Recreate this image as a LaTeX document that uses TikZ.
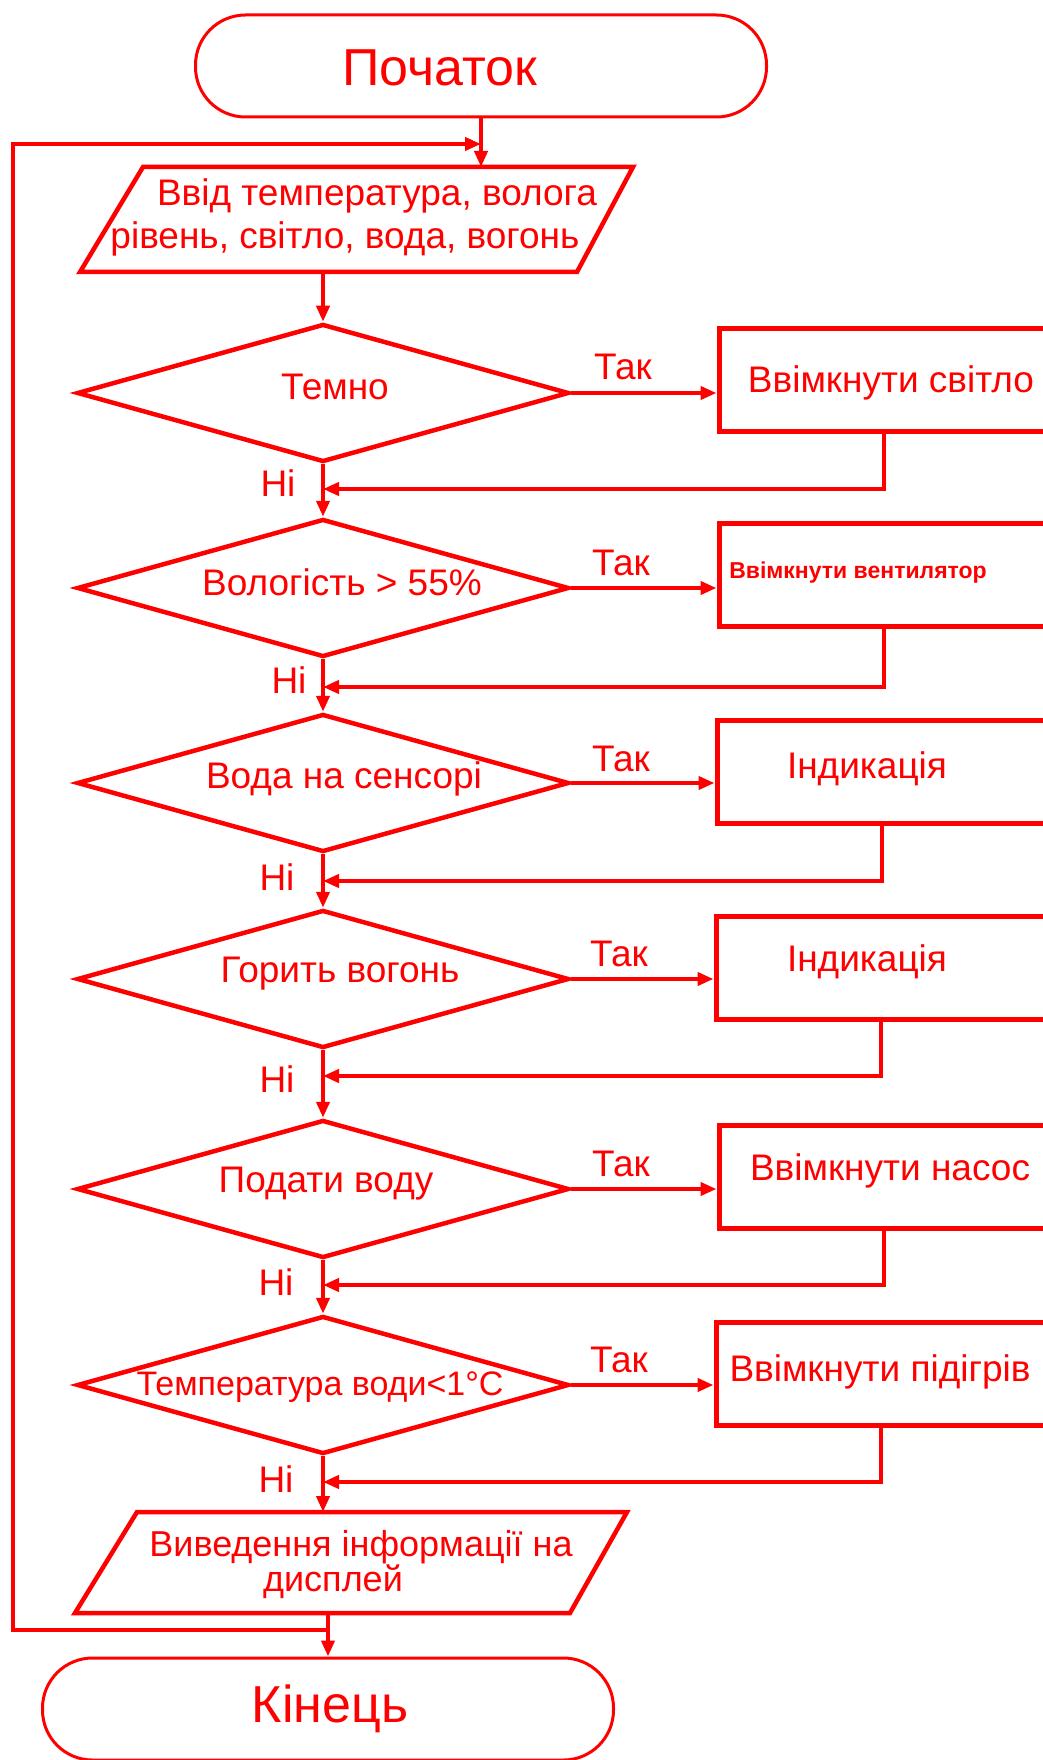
\documentclass[tikz,border=0pt]{standalone}
\usepackage{fontspec}
\setmainfont{Liberation Sans}
\usetikzlibrary{shapes.geometric,arrows.meta}
\definecolor{ink}{RGB}{255,0,0}
\begin{document}
\begin{tikzpicture}[x=1pt,y=-1pt,
  outline/.style={draw=ink, line width=4.5pt, line join=miter},
  flow/.style={draw=ink, line width=4.5pt, -{Triangle[length=16pt,width=13pt]}},
  plain/.style={draw=ink, line width=4pt},
  dec/.style={diamond, draw=ink, line width=4.5pt, minimum width=492pt, minimum height=138pt, inner sep=0pt},
  actbox/.style={rectangle, draw=ink, line width=5pt, minimum width=330pt, minimum height=103pt, inner sep=0pt},
  termbox/.style={rectangle, rounded corners=50pt, draw=ink, line width=3pt, minimum width=571pt, minimum height=102pt, inner sep=0pt},
  lbl/.style={text=ink, inner sep=0pt, font=\fontsize{37}{43}\selectfont},
  biglbl/.style={text=ink, inner sep=0pt, font=\fontsize{52}{58}\selectfont},
]
\useasboundingbox (0,0) rectangle (1043,1760);

% start / end terminals
\node[termbox] (start) at (481,66) {};
\node[biglbl] (tStart) at (440,68) {Початок};
\node[termbox] (finish) at (328,1709) {};
\node[biglbl] (tEnd) at (330,1709) {Кінець};

% input block
\coordinate (inTL) at (143,167);
\coordinate (inTR) at (633,167);
\coordinate (inBR) at (577,272);
\coordinate (inBL) at (80,272);
\draw[outline] (inTL) -- (inTR) -- (inBR) -- (inBL) -- cycle;
\coordinate (inTop) at (481,167);
\coordinate (inBot) at (323,272);
\node[lbl] (tIn1) at (377,196) {Ввід температура, волога};
\node[lbl] (tIn2) at (345,239) {рівень, світло, вода, вогонь};

% decisions
\node[dec] (d1) at (323,393) {};
\node[dec] (d2) at (323,588) {};
\node[dec] (d3) at (323,783) {};
\node[dec] (d4) at (323,979) {};
\node[dec] (d5) at (323,1189) {};
\node[dec] (d6) at (323,1385) {};
\node[lbl] (td1) at (335,387) {Темно};
\node[lbl] (td2) at (342,582) {Вологість > 55\%};
\node[lbl] (td3) at (344,779) {Вода на сенсорі};
\node[lbl] (td4) at (340,974) {Горить вогонь};
\node[lbl] (td5) at (326,1184) {Подати воду};
\node[lbl, font=\fontsize{34}{40}\selectfont] (td6) at (320,1387) {Температура води<1°C};

% actions
\node[actbox] (b1) at (884,380) {};
\node[actbox] (b2) at (884,575) {};
\node[actbox] (b3) at (882,772) {};
\node[actbox] (b4) at (881,968) {};
\node[actbox] (b5) at (884,1177) {};
\node[actbox] (b6) at (881,1374) {};
\node[lbl] (tb1) at (891,383) {Ввімкнути світло};
\node[lbl, font=\fontsize{23}{27}\selectfont\bfseries] (tb2) at (858,573) {Ввімкнути вентилятор};
\node[lbl] (tb3) at (867,769) {Індикація};
\node[lbl] (tb4) at (867,962) {Індикація};
\node[lbl] (tb5) at (890,1171) {Ввімкнути насос};
\node[lbl] (tb6) at (880,1372) {Ввімкнути підігрів};

% output block
\coordinate (oTL) at (137,1512);
\coordinate (oTR) at (627,1512);
\coordinate (oBR) at (570,1613);
\coordinate (oBL) at (75,1613);
\draw[outline] (oTL) -- (oTR) -- (oBR) -- (oBL) -- cycle;
\coordinate (oTop) at (323,1512);
\coordinate (oBot) at (328,1613);
\node[lbl, font=\fontsize{36}{40}\selectfont] (tOut1) at (361,1547) {Виведення інформації на};
\node[lbl, font=\fontsize{36}{40}\selectfont] (tOut2) at (333,1582) {дисплей};

% main flow
\draw[flow] (start.south) -- (inTop);
\draw[flow] (inBot) -- (d1.north);
\draw[flow] (d1.south) -- (d2.north);
\draw[flow] (d2.south) -- (d3.north);
\draw[flow] (d3.south) -- (d4.north);
\draw[flow] (d4.south) -- (d5.north);
\draw[flow] (d5.south) -- (d6.north);
\draw[flow] (d6.south) -- (oTop);
\draw[flow] (oBot) -- (finish.north);

% "yes" branches
\draw[flow] (d1.east) -- (d1.east -| b1.west);
\draw[flow] (d2.east) -- (d2.east -| b2.west);
\draw[flow] (d3.east) -- (d3.east -| b3.west);
\draw[flow] (d4.east) -- (d4.east -| b4.west);
\draw[flow] (d5.east) -- (d5.east -| b5.west);
\draw[flow] (d6.east) -- (d6.east -| b6.west);
\node[lbl] (y1) at (623,367) {Так};
\node[lbl] (y2) at (621,563) {Так};
\node[lbl] (y3) at (621,759) {Так};
\node[lbl] (y4) at (619,954) {Так};
\node[lbl] (y5) at (621,1164) {Так};
\node[lbl] (y6) at (619,1360) {Так};

% returns into the main line
\coordinate (j1) at (323,489);
\coordinate (j2) at (323,687);
\coordinate (j3) at (323,881);
\coordinate (j4) at (323,1076);
\coordinate (j5) at (323,1285);
\coordinate (j6) at (323,1482);
\draw[flow] (b1.south) |- (j1);
\draw[flow] (b2.south) |- (j2);
\draw[flow] (b3.south) |- (j3);
\draw[flow] (b4.south) |- (j4);
\draw[flow] (b5.south) |- (j5);
\draw[flow] (b6.south) |- (j6);
\node[lbl] (n1) at (278,483) {Ні};
\node[lbl] (n2) at (289,680) {Ні};
\node[lbl] (n3) at (277,877) {Ні};
\node[lbl] (n4) at (277,1079) {Ні};
\node[lbl] (n5) at (276,1282) {Ні};
\node[lbl] (n6) at (276,1479) {Ні};

% loop back to the input
\coordinate (lj) at (328,1630);
\coordinate (lc1) at (13,1630);
\coordinate (lc2) at (13,144);
\coordinate (lin) at (481,144);
\draw[flow, line width=4pt] (lj) -- (lc1) -- (lc2) -- (lin);
\end{tikzpicture}
\end{document}
